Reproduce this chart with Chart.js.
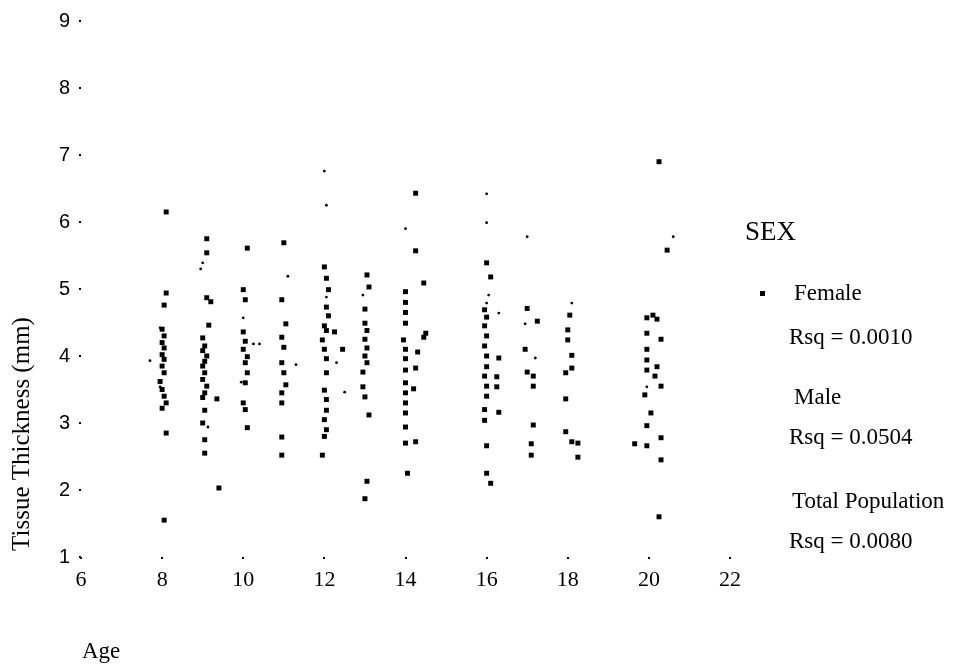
<!DOCTYPE html>
<html>
<head>
<meta charset="utf-8">
<script src="https://cdn.jsdelivr.net/npm/chart.js@4/dist/chart.umd.min.js"></script>
<style>
  html, body { margin: 0; padding: 0; background: #fff; }
  #wrap { width: 957px; height: 665px; }
</style>
</head>
<body>
<div id="wrap"><canvas id="c" width="957" height="665"></canvas></div>
<script>
// ---- data ----
const xTicks = [6, 8, 10, 12, 14, 16, 18, 20, 22];
const yTicks = [1, 2, 3, 4, 5, 6, 7, 8, 9];

const femaleAge = [
  8.1, 8.1, 8.05, 8.0, 8.05, 8.0, 8.05, 8.0, 8.05, 8.0, 8.05, 7.95, 8.0, 8.05, 8.1, 8.0, 8.1, 8.05,
  9.1, 9.1, 9.1, 9.2, 9.15, 9.0, 9.05, 9.0, 9.1, 9.05, 9.0, 9.05, 9.0, 9.1, 9.05, 9.0, 9.35, 9.05, 9.0, 9.05, 9.05, 9.4,
  10.1, 10.0, 10.05, 10.0, 10.05, 10.0, 10.1, 10.05, 10.1, 10.05, 10.0, 10.05, 10.1,
  11.0, 10.95, 11.05, 10.95, 11.0, 10.95, 11.0, 11.05, 10.95, 10.95, 10.95, 10.95,
  12.0, 12.05, 12.1, 12.05, 12.1, 12.0, 12.05, 12.25, 11.95, 12.0, 12.05, 12.45, 12.05, 12.0, 12.05, 12.05, 12.0, 12.05, 12.0, 11.95,
  13.05, 13.1, 13.0, 13.0, 13.05, 13.0, 13.05, 13.0, 13.05, 12.95, 12.95, 13.0, 13.1, 13.05, 13.0,
  14.25, 14.25, 14.45, 14.0, 14.0, 14.0, 14.0, 14.5, 14.45, 13.95, 14.0, 14.0, 14.3, 14.25, 14.0, 14.0, 14.0, 14.0, 14.0, 14.2, 14.0, 14.0, 14.25, 14.05,
  16.0, 16.1, 15.95, 16.0, 15.95, 16.0, 15.95, 16.0, 16.3, 16.0, 15.95, 16.0, 16.0, 15.95, 16.25, 16.25, 16.3, 15.95, 16.0, 16.0, 16.1,
  17.0, 17.25, 16.95, 17.0, 17.15, 17.15, 17.15, 17.1, 17.1,
  18.05, 18.0, 18.0, 18.1, 18.1, 17.95, 17.95, 17.95, 18.1, 18.25, 18.25,
  20.25, 20.45, 20.1, 19.95, 20.2, 19.95, 19.95, 20.3, 19.95, 19.95, 20.2, 20.15, 20.3, 19.9, 20.05, 19.95, 19.65, 19.95, 20.3, 20.3, 20.25
];
const femaleThickness = [
  6.15, 4.94, 4.76, 4.40, 4.30, 4.20, 4.12, 4.02, 3.95, 3.85, 3.75, 3.62, 3.50, 3.40, 3.30, 3.22, 2.85, 1.55,
  5.75, 5.54, 4.87, 4.81, 4.46, 4.27, 4.15, 4.08, 4.00, 3.92, 3.85, 3.75, 3.65, 3.55, 3.45, 3.38, 3.36, 3.19, 3.00, 2.75, 2.55, 2.03,
  5.61, 4.99, 4.84, 4.36, 4.22, 4.10, 3.99, 3.90, 3.75, 3.60, 3.30, 3.20, 2.93,
  5.69, 4.84, 4.48, 4.28, 4.13, 3.90, 3.75, 3.57, 3.45, 3.30, 2.79, 2.52,
  5.33, 5.16, 4.99, 4.73, 4.60, 4.45, 4.38, 4.36, 4.24, 4.10, 3.96, 4.10, 3.75, 3.49, 3.35, 3.19, 3.05, 2.90, 2.80, 2.52,
  5.21, 5.03, 4.70, 4.49, 4.38, 4.25, 4.12, 4.00, 3.90, 3.76, 3.54, 3.39, 3.12, 2.13, 1.87,
  6.43, 5.57, 5.09, 4.96, 4.80, 4.65, 4.49, 4.34, 4.28, 4.24, 4.10, 3.96, 4.06, 3.82, 3.79, 3.60, 3.45, 3.30, 3.15, 3.51, 2.94, 2.70, 2.72, 2.25,
  5.39, 5.18, 4.69, 4.58, 4.45, 4.30, 4.15, 4.00, 3.97, 3.84, 3.70, 3.55, 3.40, 3.20, 3.69, 3.54, 3.16, 3.04, 2.66, 2.25, 2.10,
  4.71, 4.52, 4.10, 3.76, 3.70, 3.55, 2.97, 2.69, 2.52,
  4.61, 4.39, 4.24, 4.01, 3.82, 3.75, 3.36, 2.87, 2.72, 2.70, 2.49,
  6.90, 5.58, 4.61, 4.57, 4.55, 4.34, 4.10, 4.25, 3.94, 3.79, 3.84, 3.70, 3.55, 3.42, 3.15, 2.96, 2.69, 2.66, 2.78, 2.45, 1.60
];
const maleAge = [
  7.7, 7.95, 7.95, 9.0, 8.95, 9.13, 10.0, 10.25, 10.4, 9.95, 11.1, 11.3,
  12.0, 12.05, 12.05, 12.3, 12.5, 12.95, 14.0, 16.0, 16.0, 16.05, 16.0, 16.3,
  17.0, 16.95, 17.2, 18.1, 20.6, 19.95
];
const maleThickness = [
  3.93, 3.54, 4.42, 5.39, 5.30, 2.94, 4.57, 4.18, 4.18, 3.61, 5.19, 3.87,
  6.76, 6.25, 4.88, 3.90, 3.46, 4.91, 5.90, 6.42, 5.99, 4.91, 4.79, 4.64,
  5.78, 4.48, 3.97, 4.79, 5.78, 3.54
];
const legendTitle = 'SEX';
const legendLines = ['Female', 'Rsq = 0.0010', 'Male', 'Rsq = 0.0504', 'Total Population', 'Rsq = 0.0080'];
const yTitle = 'Tissue Thickness (mm)';
const xTitle = 'Age';

// ---- build ----
const toPts = (xs, ys) => xs.map((x, i) => ({ x: x, y: ys[i] }));

const textPlugin = {
  id: 'texts',
  afterDraw(chart) {
    const ctx = chart.ctx;
    ctx.save();
    ctx.fillStyle = '#000';
    ctx.textBaseline = 'middle';
    ctx.textAlign = 'left';
    // legend
    ctx.font = '27px "Liberation Serif", serif';
    ctx.fillText(legendTitle, 745, 233);
    ctx.fillRect(760, 291, 5, 5);
    ctx.font = '23px "Liberation Serif", serif';
    const ys = [294, 338, 398, 438, 502, 542];
    const xs = [794, 789, 794, 789, 792, 789];
    legendLines.forEach((t, i) => ctx.fillText(t, xs[i], ys[i]));
    // axis titles
    ctx.font = '23px "Liberation Serif", serif';
    ctx.fillText(xTitle, 82, 652);
    ctx.translate(22, 434);
    ctx.rotate(-Math.PI / 2);
    ctx.textAlign = 'center';
    ctx.font = '25px "Liberation Serif", serif';
    ctx.fillText(yTitle, 0, 0);
    ctx.restore();
  }
};

new Chart(document.getElementById('c'), {
  type: 'scatter',
  data: {
    datasets: [
      {
        label: 'Female',
        data: toPts(femaleAge, femaleThickness),
        pointStyle: 'rect',
        pointRadius: 3.5,
        pointHoverRadius: 3.5,
        backgroundColor: '#000',
        borderColor: '#000',
        borderWidth: 0
      },
      {
        label: 'Male',
        data: toPts(maleAge, maleThickness),
        pointStyle: 'circle',
        pointRadius: 1.4,
        pointHoverRadius: 1.4,
        backgroundColor: '#000',
        borderColor: '#000',
        borderWidth: 0
      }
    ]
  },
  options: {
    responsive: false,
    animation: false,
    events: [],
    layout: { padding: { top: 21, right: 227, left: 0, bottom: 0 } },
    plugins: {
      legend: { display: false },
      tooltip: { enabled: false },
      title: { display: false }
    },
    scales: {
      x: {
        type: 'linear',
        min: 6, max: 22,
        afterFit(s) { s.height = 108; },
        afterBuildTicks(s) { s.ticks = xTicks.map(v => ({ value: v })); },
        border: { display: false },
        grid: { display: true, drawOnChartArea: false, drawTicks: true, tickLength: 2, lineWidth: 2, color: '#000' },
        ticks: {
          color: '#000',
          padding: 8,
          maxRotation: 0,
          font: { family: '"Liberation Serif", serif', size: 22 }
        }
      },
      y: {
        type: 'linear',
        min: 1, max: 9,
        afterFit(s) { s.width = 81; },
        afterBuildTicks(s) { s.ticks = yTicks.map(v => ({ value: v })); },
        border: { display: false },
        grid: { display: true, drawOnChartArea: false, drawTicks: true, tickLength: 2, lineWidth: 2, color: '#000' },
        ticks: {
          color: '#000',
          padding: 9,
          font: { family: '"Liberation Sans", sans-serif', size: 20 }
        }
      }
    }
  },
  plugins: [textPlugin]
});
</script>
</body>
</html>
